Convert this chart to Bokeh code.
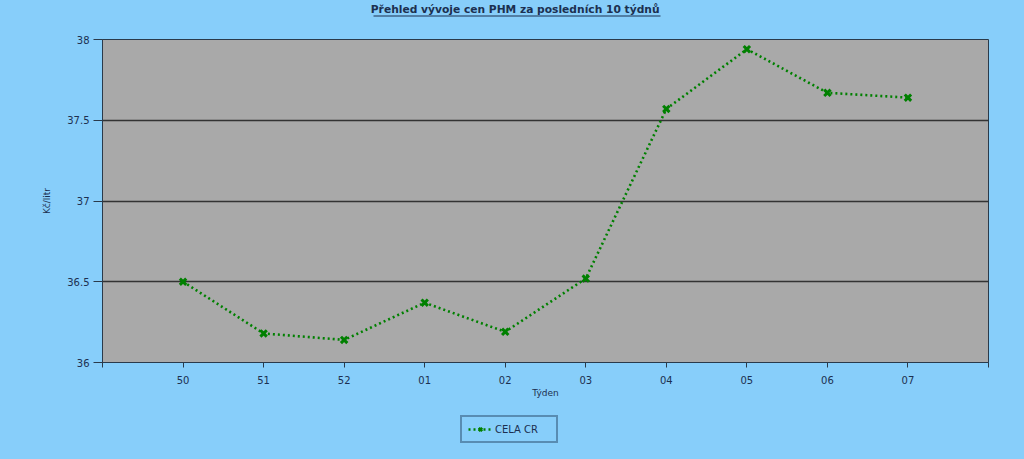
from bokeh.plotting import figure
from bokeh.layouts import column
from bokeh.models import FixedTicker, Legend, LegendItem, Range1d, Label, BoxAnnotation
from bokeh.embed import file_html
from bokeh.resources import INLINE

weeks = ["50", "51", "52", "01", "02", "03", "04", "05", "06", "07"]
prices = [36.50, 36.18, 36.14, 36.37, 36.19, 36.52, 37.57, 37.94, 37.67, 37.64]
y_ticks = [36, 36.5, 37, 37.5, 38]
series_name = "CELA CR"
title_text = "Přehled vývoje cen PHM  za posledních 10 týdnů"

BG = "#87CEFA"
TXT = "#1c3050"
AX = "#2a3a4a"
GREEN = "#008000"
FONT = "DejaVu Sans"

xs = list(range(len(weeks)))

# ---- title strip ----
ts = figure(width=1008, height=30, output_backend="svg", toolbar_location=None,
            x_range=Range1d(102, 988), y_range=Range1d(30, 0), min_border=0)
ts.axis.visible = False
ts.grid.grid_line_color = None
ts.outline_line_color = None
ts.background_fill_color = BG
ts.border_fill_color = BG
ts.add_layout(Label(x=516.5, y=9, text=title_text, text_align="center", text_baseline="middle",
                    text_font=FONT, text_font_size="10.7px", text_font_style="bold", text_color=TXT))
ts.add_layout(BoxAnnotation(left=373, right=660, top=15, bottom=16, fill_color=TXT, fill_alpha=1,
                            line_color=None))

# ---- main chart ----
p = figure(width=1008, height=375, output_backend="svg", toolbar_location=None,
           x_range=Range1d(-1, len(weeks)), y_range=Range1d(36, 38),
           min_border_left=102, min_border_right=20, min_border_top=9, min_border_bottom=43)

p.background_fill_color = "#A9A9A9"
p.border_fill_color = BG
p.outline_line_color = AX
p.outline_line_width = 1

p.xaxis.ticker = FixedTicker(ticks=[-1] + xs + [len(weeks)])
overrides = {i: w for i, w in zip(xs, weeks)}
overrides[-1] = ""
overrides[len(weeks)] = ""
p.xaxis.major_label_overrides = overrides
p.xaxis.axis_label = "Týden"
p.yaxis.ticker = FixedTicker(ticks=y_ticks)
p.yaxis.axis_label = "Kč/litr"
p.yaxis.major_label_overrides = {36: "36", 36.5: "36.5", 37: "37", 37.5: "37.5", 38: "38"}

for ax in (p.xaxis[0], p.yaxis[0]):
    ax.axis_line_color = AX
    ax.major_tick_line_color = AX
    ax.major_tick_in = 0
    ax.minor_tick_line_color = None
    ax.major_label_text_font = FONT
    ax.major_label_text_font_size = "10px"
    ax.major_label_text_color = TXT
    ax.axis_label_text_font = FONT
    ax.axis_label_text_font_size = "9px"
    ax.axis_label_text_font_style = "normal"
    ax.axis_label_text_color = TXT

p.xaxis.major_tick_out = 5
p.xaxis.major_label_standoff = 8
p.xaxis.axis_label_standoff = 1
p.yaxis.major_tick_out = 9
p.yaxis.major_label_standoff = 4
p.yaxis.axis_label_standoff = 12

p.xgrid.grid_line_color = None
p.ygrid.grid_line_color = "#333333"
p.ygrid.grid_line_width = 1.3

ln = p.line(xs, prices, line_color=GREEN, line_width=2.6, line_dash="2 3")
sc = p.scatter(xs, prices, marker="x", size=9, line_width=3, line_color=GREEN)

# ---- legend strip ----
lg = figure(width=1008, height=38, output_backend="svg", toolbar_location=None,
            x_range=Range1d(0, 1), y_range=Range1d(0, 1), min_border=0)
lg.axis.visible = False
lg.grid.grid_line_color = None
lg.outline_line_color = None
lg.background_fill_color = BG
lg.border_fill_color = BG
# same series, outside this strip's visible range: only its legend glyph shows
lln = lg.line(xs, prices, line_color=GREEN, line_width=2.6, line_dash="2 3")
lsc = lg.scatter(xs, prices, marker="x", size=7, line_width=2.5, line_color=GREEN)

legend = Legend(items=[LegendItem(label=series_name, renderers=[lln, lsc])],
                location=(358, 0), orientation="horizontal")
legend.background_fill_color = BG
legend.background_fill_alpha = 1
legend.border_line_color = "#2a4a6a"
legend.border_line_width = 2
legend.label_text_font = FONT
legend.label_text_font_size = "10px"
legend.label_text_color = TXT
legend.padding = 6
legend.margin = 0
legend.glyph_width = 24
legend.glyph_height = 12
legend.label_standoff = 3
legend.label_height = 12
legend.label_width = 55
lg.add_layout(legend)

layout = column(ts, p, lg, spacing=0)

html = file_html(layout, INLINE)
style = "<style>html,body{background:%s;}</style>" % BG
html = html.replace("</head>", style + "</head>", 1)
open("out.html", "w").write(html)
